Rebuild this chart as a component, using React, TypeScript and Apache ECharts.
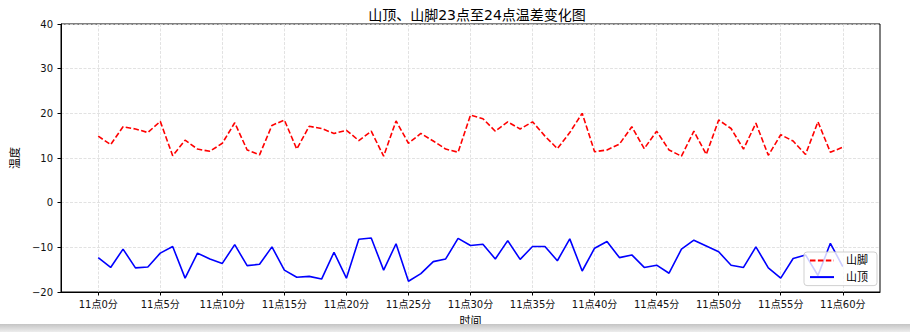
import React, { useEffect, useRef } from "react";
import * as echarts from "echarts";

const minutes: number[] = Array.from({ length: 61 }, (_, i) => i);
const tickMinutes: number[] = [0, 5, 10, 15, 20, 25, 30, 35, 40, 45, 50, 55, 60];
const yTicks: number[] = [-20, -10, 0, 10, 20, 30, 40];

const footTemps: number[] = [
  14.9, 13.0, 17.0, 16.5, 15.7, 18.2, 10.5, 14.0, 12.0, 11.5, 13.3, 17.9, 11.8, 10.7, 17.3, 18.5,
  12.0, 17.1, 16.6, 15.5, 16.2, 13.9, 16.0, 10.4, 18.3, 13.3, 15.5, 13.8, 12.0, 11.3, 19.6, 18.8,
  16.0, 18.1, 16.5, 18.1, 14.9, 12.1, 15.7, 20.0, 11.4, 11.8, 13.1, 17.0, 12.1, 16.0, 11.8, 10.4,
  16.0, 10.8, 18.5, 16.6, 12.0, 17.8, 10.6, 15.2, 13.8, 10.8, 18.1, 11.3, 12.4,
];

const topTemps: number[] = [
  -12.3, -14.5, -10.4, -14.6, -14.4, -11.3, -9.8, -16.9, -11.3, -12.6, -13.6, -9.4, -14.1, -13.8,
  -9.9, -15.1, -16.7, -16.5, -17.1, -11.1, -16.9, -8.2, -7.9, -15.1, -9.2, -17.6, -15.9, -13.2,
  -12.6, -8.0, -9.6, -9.3, -12.6, -8.5, -12.7, -9.8, -9.8, -13.0, -8.1, -15.3, -10.2, -8.7, -12.3,
  -11.7, -14.5, -14.0, -15.8, -10.4, -8.4, -9.7, -11.0, -14.0, -14.5, -9.9, -14.6, -16.9, -12.5,
  -11.7, -16.3, -9.1, -14.3,
];

const FONT = "'DejaVu Sans', 'Noto Sans CJK SC', sans-serif";

export default function App() {
  const ref = useRef<HTMLDivElement>(null);

  useEffect(() => {
    if (!ref.current) return;
    const chart = echarts.init(ref.current, undefined, { renderer: "svg" });
    chart.setOption({
      animation: false,
      backgroundColor: "#ffffff",
      title: {
        text: "山顶、山脚23点至24点温差变化图",
        left: 472,
        top: 3,
        textAlign: "center",
        textStyle: { fontSize: 14, fontWeight: "normal", color: "#000", fontFamily: FONT },
      },
      legend: {
        orient: "vertical",
        right: 33,
        top: 252,
        itemWidth: 24,
        itemHeight: 12,
        itemGap: 5.6,
        padding: [3, 9, 3, 5],
        backgroundColor: "rgba(255,255,255,0.8)",
        borderColor: "rgba(204,204,204,0.9)",
        borderWidth: 1,
        borderRadius: 3,
        itemStyle: { opacity: 0, borderWidth: 0 },
        textStyle: { fontSize: 11, color: "#000", fontFamily: FONT, padding: [0, 0, 0, 7] },
        data: ["山脚", "山顶"],
      },
      grid: {
        left: 61,
        right: 30,
        top: 24,
        bottom: 37,
        show: true,
        borderColor: "#000",
        borderWidth: 1,
        backgroundColor: "transparent",
      },
      xAxis: {
        type: "value",
        min: -3,
        max: 63,
        name: "时间",
        nameLocation: "middle",
        nameGap: 24,
        nameTextStyle: { fontSize: 11, color: "#000", fontFamily: FONT },
        axisLine: { show: true, onZero: false, lineStyle: { color: "#000", width: 1 } },
        axisTick: {
          show: true,
          length: 3.5,
          customValues: tickMinutes,
          lineStyle: { color: "#000" },
        },
        axisLabel: {
          customValues: tickMinutes,
          margin: 7,
          fontSize: 10,
          color: "#111",
          fontFamily: FONT,
          formatter: (v: number) => `11点${v}分`,
        },
        splitLine: {
          show: true,
          lineStyle: { color: "#dadada", type: [3, 1.5], width: 0.8 },
        },
      },
      yAxis: {
        type: "value",
        min: -20,
        max: 40,
        interval: 10,
        name: "温度",
        nameLocation: "middle",
        nameGap: 35,
        nameTextStyle: { fontSize: 11, color: "#000", fontFamily: FONT },
        axisLine: { show: true, onZero: false, lineStyle: { color: "#000", width: 1 } },
        axisTick: { show: true, length: 3.5, lineStyle: { color: "#000" } },
        axisLabel: {
          margin: 8,
          fontSize: 10,
          color: "#111",
          fontFamily: FONT,
          formatter: (v: number) => (yTicks.includes(v) ? String(v).replace("-", "−") : ""),
        },
        splitLine: {
          show: true,
          lineStyle: { color: "#dadada", type: [3, 1.5], width: 0.8 },
        },
      },
      series: [
        {
          name: "山脚",
          type: "line",
          data: minutes.map((m, i) => [m, footTemps[i]]),
          symbol: "none",
          showSymbol: false,
          lineStyle: { color: "#ff0000", width: 1.6, type: [5.5, 2.4] },
          itemStyle: { color: "#ff0000" },
          z: 3,
        },
        {
          name: "山顶",
          type: "line",
          data: minutes.map((m, i) => [m, topTemps[i]]),
          symbol: "none",
          showSymbol: false,
          lineStyle: { color: "#0000ff", width: 1.6 },
          itemStyle: { color: "#0000ff" },
          z: 3,
        },
      ],
      graphic: [
        {
          type: "rect",
          left: 0,
          bottom: 0,
          z: 100,
          shape: { width: 910, height: 8 },
          style: {
            fill: new echarts.graphic.LinearGradient(0, 0, 0, 1, [
              { offset: 0, color: "#c4c4c4" },
              { offset: 1, color: "#ededed" },
            ]),
          },
        },
      ],
    });
    return () => chart.dispose();
  }, []);

  return (
    <div
      ref={ref}
      style={{ position: "fixed", left: 0, top: 0, width: 910, height: 332 }}
    />
  );
}
